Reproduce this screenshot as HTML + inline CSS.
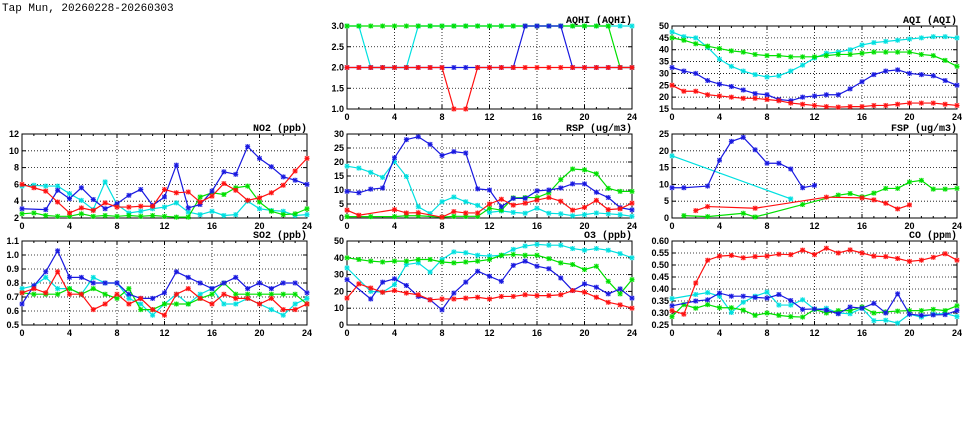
<!DOCTYPE html>
<html><head><meta charset="utf-8"><style>
body{margin:0;background:#fff;}
svg{display:block;font-family:"Liberation Sans",sans-serif;}
.tk{font-size:9px;font-weight:bold;fill:#000;}
.pt{font-family:"Liberation Mono",monospace;font-size:10px;font-weight:bold;fill:#000;}
</style></head><body>
<svg id="c" width="975" height="447">
<text x="2" y="11" font-family="Liberation Mono, monospace" font-size="11">Tap Mun, 20260228-20260303</text>
</svg>
<script>
const N=null;
const hours=[0,1,2,3,4,5,6,7,8,9,10,11,12,13,14,15,16,17,18,19,20,21,22,23,24];
const xTicks=[0,4,8,12,16,20,24];
// AQHI
const aqhiCyan=[3,3,2,2,2,2,3,3,3,3,3,3,3,3,3,3,3,3,3,3,3,3,3,3,3];
const aqhiGreen=[3,3,3,3,3,3,3,3,3,3,3,3,3,3,3,3,3,3,3,3,3,3,3,2,2];
const aqhiBlue=[2,2,2,2,2,2,2,2,2,2,2,2,2,2,2,3,3,3,3,2,2,2,2,2,2];
const aqhiRed=[2,2,2,2,2,2,2,2,2,1,1,2,2,2,2,2,2,2,2,2,2,2,2,2,2];
const aqhiTicks=[1.0,1.5,2.0,2.5,3.0];
// AQI
const aqiCyan=[47.5,45.5,45,41,36,33,31,29.5,28.5,29,31,33.5,36.5,38.5,39,40,42,43,43.5,44,44.5,45,45.5,45.5,45];
const aqiGreen=[45,44,42.5,41.5,40.5,39.5,39,38,37.5,37.5,37,37,37,37.5,38,38,38.5,39,39,39,39,38,37.5,35.5,33];
const aqiBlue=[32.5,31,30,27,25.5,24.5,23,21.5,21,19,18.5,20,20.5,21,21,23.5,26.5,29.5,31,31.5,30,29.5,29,27,25];
const aqiRed=[25,22.5,22.5,21,20.5,20,19.5,19.5,19,18.5,17.5,17,16.5,16,15.8,16,16,16.5,16.5,17,17.5,17.5,17.5,17,16.5];
const aqiTicks=[15,20,25,30,35,40,45,50];
// NO2
const no2Cyan=[5.8,5.9,5.8,5.8,4.9,4.1,3.0,6.3,3.6,2.6,2.8,3.1,3.3,3.8,2.7,2.4,2.8,2.3,2.4,4.0,3.1,2.9,2.8,2.3,2.4];
const no2Green=[2.5,2.6,2.3,2.2,2.2,2.5,2.2,2.3,2.2,2.3,2.2,2.3,2.2,2.1,2.1,4.5,5.0,4.8,5.6,5.8,3.9,2.8,2.4,2.5,3.1];
const no2Blue=[3.1,N,3.0,5.3,4.3,5.6,4.2,3.1,3.7,4.7,5.4,3.5,4.5,8.3,3.2,3.6,5.2,7.5,7.2,10.5,9.1,8.1,6.9,6.5,6.0];
const no2Red=[6.0,5.6,5.2,3.9,2.6,3.2,2.9,3.8,3.3,3.3,3.4,3.4,5.4,5.0,5.1,3.9,4.6,6.1,5.3,4.1,4.4,5.0,5.9,7.6,9.1];
const no2Ticks=[2,4,6,8,10,12];
// RSP
const rspCyan=[18.5,17.8,16.3,14.5,20.2,14.8,4,1.6,5.8,7.5,5.8,4.5,2,2.5,2,1.7,3.5,1.7,1.5,0.8,1.2,1.8,1.5,1.2,0.6];
const rspGreen=[0.5,N,0.5,N,0.5,0.8,0.8,N,0.3,0.6,0.6,0.6,3.5,2.8,7.2,7.3,7.3,9,13.7,17.5,17.2,15.8,10.6,9.5,9.5];
const rspBlue=[9.5,9,10.3,10.7,21.5,28,29,26.3,22.3,23.7,23.2,10.4,10,4,7,7,9.7,10,10.7,12.2,12.2,9.2,7.3,3.7,2.9];
const rspRed=[2.8,1.0,N,N,3,1.8,1.9,N,0.3,2.3,1.8,1.8,5,6.7,4.6,5.3,6.4,7.3,6,2.8,3.8,6.3,3,3.3,5.3];
const rspTicks=[0,5,10,15,20,25,30];
// FSP
const fspCyan=[18.5,N,N,N,N,N,N,N,N,N,5.7,N,N,N,N,N,N,N,N,N,N,N,N,N,N];
const fspGreen=[N,0.7,N,0.4,N,N,1.4,0.3,N,N,N,4,N,N,6.8,7.3,6.3,7.4,8.8,8.8,10.7,11.2,8.6,8.6,8.8];
const fspBlue=[9,9,N,9.5,17.2,22.8,24,20.3,16.3,16.3,14.6,9,9.7,N,N,N,N,N,N,N,N,N,N,N,N];
const fspRed=[N,N,2.2,3.4,N,N,N,2.9,N,N,N,N,N,6.2,N,N,6,5.4,4.4,2.7,3.9,N,N,N,N];
const fspTicks=[0,5,10,15,20,25];
// SO2
const so2Cyan=[0.76,0.78,0.84,0.76,0.76,0.72,0.84,0.80,0.80,0.69,0.65,0.57,0.65,0.72,0.65,0.72,0.76,0.65,0.65,0.69,0.65,0.61,0.57,0.65,0.69];
const so2Green=[0.73,0.72,0.72,0.72,0.76,0.72,0.76,0.72,0.69,0.76,0.61,0.61,0.65,0.65,0.65,0.69,0.72,0.80,0.72,0.72,0.72,0.72,0.72,0.72,0.65];
const so2Blue=[0.65,0.78,0.88,1.03,0.84,0.84,0.80,0.80,0.80,0.72,0.69,0.69,0.73,0.88,0.84,0.80,0.76,0.80,0.84,0.76,0.80,0.76,0.80,0.80,0.73];
const so2Red=[0.73,0.76,0.73,0.88,0.72,0.72,0.61,0.65,0.72,0.65,0.69,0.61,0.57,0.72,0.76,0.69,0.65,0.72,0.69,0.69,0.65,0.69,0.61,0.61,0.65];
const so2Ticks=[0.5,0.6,0.7,0.8,0.9,1.0,1.1];
// O3
const o3Cyan=[34,N,20,19.5,24,36,37,31.5,39,43.5,43,41.5,41,41.5,45,47,48,47.5,47.5,45.5,44.5,45.5,44.5,42.5,40];
const o3Green=[40,39,38,37.5,38,38,39,39,37.5,37,37.5,38,39,41.5,42,41.5,41.5,39.5,37,36,33,35,26,18.5,27];
const o3Blue=[27,N,15.5,25.5,27.5,23.5,17,15,9,19,25.5,32,29,26,35.5,38,35,33.5,28,20.5,24.5,22.5,18.5,21.5,16];
const o3Red=[16,24.5,22,19.5,20.5,19,18,15,15.5,15.5,16,16.5,15.5,17,17,18,17.5,17.5,18,20.5,19.5,16.5,13.5,12,10];
const o3Ticks=[0,10,20,30,40,50];
// CO
const coCyan=[0.36,N,0.377,0.385,0.37,0.302,0.345,0.37,0.387,0.333,0.333,0.355,0.315,0.32,0.30,0.297,0.32,0.268,0.27,0.258,0.295,0.283,0.295,0.298,0.285];
const coGreen=[0.285,0.335,0.32,0.335,0.322,0.322,0.312,0.29,0.30,0.29,0.285,0.283,0.315,0.30,0.31,0.31,0.325,0.30,0.305,0.308,0.31,0.31,0.315,0.31,0.33];
const coBlue=[0.33,N,0.35,0.355,0.383,0.37,0.37,0.365,0.362,0.377,0.352,0.315,0.317,0.312,0.297,0.325,0.32,0.34,0.30,0.38,0.295,0.29,0.292,0.293,0.31];
const coRed=[0.31,0.295,0.425,0.52,0.537,0.54,0.53,0.535,0.537,0.545,0.543,0.562,0.543,0.57,0.55,0.563,0.55,0.537,0.535,0.527,0.515,0.52,0.532,0.547,0.52];
const coTicks=[0.25,0.30,0.35,0.40,0.45,0.50,0.55,0.60];

const NS='http://www.w3.org/2000/svg';
const svg=document.getElementById('c');
function mk(tag,at,parent){const e=document.createElementNS(NS,tag);for(const k in at)e.setAttribute(k,at[k]);(parent||svg).appendChild(e);return e;}
const colors={cyan:'#00e0e0',green:'#00e000',blue:'#1818e0',red:'#ff1010'};
const panels=[
 {name:'aqhi',title:'AQHI (AQHI)',x0:347,x1:632,y0:26,y1:109,ticks:aqhiTicks,dec:1,series:{cyan:aqhiCyan,green:aqhiGreen,blue:aqhiBlue,red:aqhiRed}},
 {name:'aqi',title:'AQI (AQI)',x0:672,x1:957,y0:26,y1:109,ticks:aqiTicks,dec:0,series:{cyan:aqiCyan,green:aqiGreen,blue:aqiBlue,red:aqiRed}},
 {name:'no2',title:'NO2 (ppb)',x0:22,x1:307,y0:134,y1:218,ticks:no2Ticks,dec:0,series:{cyan:no2Cyan,green:no2Green,blue:no2Blue,red:no2Red}},
 {name:'rsp',title:'RSP (ug/m3)',x0:347,x1:632,y0:134,y1:218,ticks:rspTicks,dec:0,series:{cyan:rspCyan,green:rspGreen,blue:rspBlue,red:rspRed}},
 {name:'fsp',title:'FSP (ug/m3)',x0:672,x1:957,y0:134,y1:218,ticks:fspTicks,dec:0,series:{cyan:fspCyan,green:fspGreen,blue:fspBlue,red:fspRed}},
 {name:'so2',title:'SO2 (ppb)',x0:22,x1:307,y0:241,y1:325,ticks:so2Ticks,dec:1,series:{cyan:so2Cyan,green:so2Green,blue:so2Blue,red:so2Red}},
 {name:'o3',title:'O3 (ppb)',x0:347,x1:632,y0:241,y1:325,ticks:o3Ticks,dec:0,series:{cyan:o3Cyan,green:o3Green,blue:o3Blue,red:o3Red}},
 {name:'co',title:'CO (ppm)',x0:672,x1:957,y0:241,y1:325,ticks:coTicks,dec:2,series:{cyan:coCyan,green:coGreen,blue:coBlue,red:coRed}}
];
panels.forEach(p=>{
 const g=mk('g',{});
 
 
 const lo=p.ticks[0],hi=p.ticks[p.ticks.length-1];
 const sx=h=>p.x0+(h/24)*(p.x1-p.x0);
 const sy=v=>p.y1-(v-lo)/(hi-lo)*(p.y1-p.y0);
 xTicks.forEach(t=>{const x=sx(t);
  if(t>0&&t<24)mk('line',{x1:x,x2:x,y1:p.y0,y2:p.y1,stroke:'#000','stroke-width':0.8,'stroke-dasharray':'1,2'},g);
  mk('line',{x1:x,x2:x,y1:p.y1,y2:p.y1-4,stroke:'#000'},g);
  mk('line',{x1:x,x2:x,y1:p.y0,y2:p.y0+4,stroke:'#000'},g);
  const tl=mk('text',{x:x,y:p.y1+11,'text-anchor':'middle',class:'tk'},g);tl.textContent=t;
  
  
 });
 hours.forEach(h=>{const x=sx(h);mk('line',{x1:x,x2:x,y1:p.y1,y2:p.y1-2,stroke:'#000'},g);mk('line',{x1:x,x2:x,y1:p.y0,y2:p.y0+2,stroke:'#000'},g);});
 p.ticks.forEach(t=>{const y=sy(t);
  if(t>lo&&t<hi)mk('line',{x1:p.x0,x2:p.x1,y1:y,y2:y,stroke:'#000','stroke-width':0.8,'stroke-dasharray':'1,2'},g);
  mk('line',{x1:p.x0,x2:p.x0+4,y1:y,y2:y,stroke:'#000'},g);
  mk('line',{x1:p.x1,x2:p.x1-4,y1:y,y2:y,stroke:'#000'},g);
  const tl=mk('text',{x:p.x0-3,y:y+3,'text-anchor':'end',class:'tk'},g);tl.textContent=t.toFixed(p.dec);
  
  
 });
 mk('rect',{x:p.x0,y:p.y0,width:p.x1-p.x0,height:p.y1-p.y0,fill:'none',stroke:'#000','stroke-width':1},g);
 const tt=mk('text',{x:p.x1,y:p.y0-3,'text-anchor':'end',class:'pt'},g);tt.textContent=p.title;
 
 
 ['cyan','green','blue','red'].forEach(c=>{
  const d=p.series[c];const pts=[];
  d.forEach((v,i)=>{if(v!==null)pts.push([sx(hours[i]),sy(v)]);});
  const sg=mk('g',{},g);
  
  
  mk('polyline',{points:pts.map(q=>q.join(',')).join(' '),fill:'none',stroke:colors[c],'stroke-width':1.2},sg);
  pts.forEach(q=>{const [x,y]=q;
   mk('rect',{x:x-2.5,y:y-2.5,width:5,height:5,fill:colors[c],'fill-opacity':0.2},sg);
   mk('path',{d:`M${x-2.5},${y}H${x+2.5}M${x},${y-2.5}V${y+2.5}M${x-2},${y-2}L${x+2},${y+2}M${x-2},${y+2}L${x+2},${y-2}`,stroke:colors[c],'stroke-width':1},sg);
  });
 });
});
</script>
</body></html>
